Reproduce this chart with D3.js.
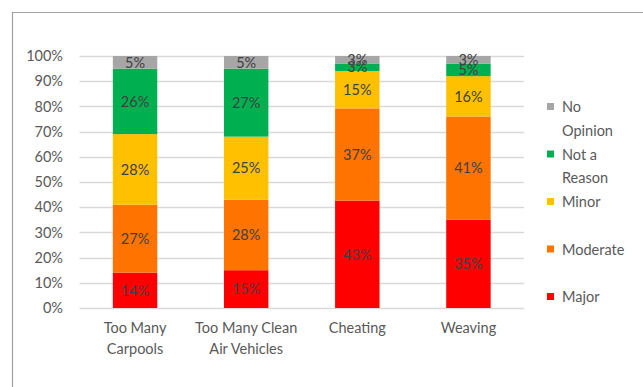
<!DOCTYPE html>
<html>
<head>
<meta charset="utf-8">
<script src="https://cdn.jsdelivr.net/npm/d3@7"></script>
<style>
  html, body { margin: 0; padding: 0; background: #fff; }
  svg { display: block; font-family: Lato, "Open Sans", sans-serif; }
</style>
</head>
<body>
<svg id="chart" width="643" height="387"></svg>
<script>
// Survey responses, percent of respondents per reason
const categories = [["Too Many", "Carpools"], ["Too Many Clean", "Air Vehicles"], ["Cheating"], ["Weaving"]];
const seriesNames = ["Major", "Moderate", "Minor", "Not a Reason", "No Opinion"];
const major      = [14, 15, 43, 35];
const moderate   = [27, 28, 37, 41];
const minor      = [28, 25, 15, 16];
const notReason  = [26, 27, 3, 5];
const noOpinion  = [5, 5, 3, 3];
const yTicks = [0, 10, 20, 30, 40, 50, 60, 70, 80, 90, 100];
const legendLines = {
  "No Opinion": ["No", "Opinion"],
  "Not a Reason": ["Not a", "Reason"],
  "Minor": ["Minor"],
  "Moderate": ["Moderate"],
  "Major": ["Major"]
};

const colors = {
  "Major": "#ff0000",
  "Moderate": "#ff7400",
  "Minor": "#ffc000",
  "Not a Reason": "#00b050",
  "No Opinion": "#a6a6a6"
};

const valuesBySeries = [major, moderate, minor, notReason, noOpinion];
const rows = categories.map((c, i) => {
  const row = { key: c.join(" "), lines: c };
  seriesNames.forEach((s, j) => row[s] = valuesBySeries[j][i]);
  row.total = d3.sum(seriesNames, s => row[s]);
  return row;
});

// 100% stacking: each column is normalised by its own total
const stack = d3.stack().keys(seriesNames).offset(d3.stackOffsetExpand);
const layers = stack(rows);

const svg = d3.select("#chart");
const margin = { left: 79.5, right: 524, top: 56, bottom: 308 };

const x = d3.scaleBand().domain(rows.map(r => r.key))
  .range([margin.left, margin.right]).paddingInner(0.6).paddingOuter(0.3);
const y = d3.scaleLinear().domain([0, 1]).range([margin.bottom, margin.top]);

// outer frame (top and left edges)
svg.append("path")
  .attr("d", "M12.5,387 V12.5 H643")
  .attr("fill", "none").attr("stroke", "#a0a0a0").attr("stroke-width", 1.2);

// gridlines
svg.append("g").selectAll("line").data(yTicks).join("line")
  .attr("x1", margin.left).attr("x2", margin.right)
  .attr("y1", d => Math.round(y(d / 100)) + 0.5).attr("y2", d => Math.round(y(d / 100)) + 0.5)
  .attr("stroke", "#d9d9d9").attr("stroke-width", 1.3);

// y axis labels
const yAxis = d3.axisLeft(y).tickValues(yTicks.map(t => t / 100))
  .tickFormat(d => Math.round(d * 100) + "%").tickSize(0).tickPadding(0);
const ya = svg.append("g").attr("transform", "translate(63,0)").call(yAxis);
ya.select(".domain").remove();
ya.selectAll("text").attr("fill", "#595959").attr("font-size", 14.5)
  .attr("font-family", "Lato, sans-serif");

// bars
const layerG = svg.append("g").selectAll("g").data(layers).join("g")
  .attr("fill", d => colors[d.key]);
layerG.selectAll("rect").data(d => d.map(p => ({ p, key: d.key }))).join("rect")
  .attr("x", d => x(d.p.data.key))
  .attr("width", x.bandwidth())
  .attr("y", d => y(d.p[1]))
  .attr("height", d => y(d.p[0]) - y(d.p[1]));

// value labels
const labelG = svg.append("g");
layers.forEach(layer => {
  layer.forEach(p => {
    labelG.append("text")
      .attr("x", x(p.data.key) + x.bandwidth() / 2)
      .attr("y", y((p[0] + p[1]) / 2))
      .attr("dy", "0.36em")
      .attr("text-anchor", "middle")
      .attr("fill", "#404040")
      .attr("font-size", 14.5)
      .text(p.data[layer.key] + "%");
  });
});

// category labels
const xl = svg.append("g");
rows.forEach(r => {
  r.lines.forEach((ln, i) => {
    xl.append("text")
      .attr("x", x(r.key) + x.bandwidth() / 2)
      .attr("y", 333 + i * 21)
      .attr("text-anchor", "middle")
      .attr("fill", "#595959")
      .attr("font-size", 14.5)
      .text(ln);
  });
});

// legend
const legendOrder = seriesNames.slice().reverse();
const lg = svg.append("g");
legendOrder.forEach((s, i) => {
  const cy = 107 + i * 47.5;
  lg.append("rect").attr("x", 547).attr("y", cy - 4).attr("width", 7).attr("height", 7)
    .attr("fill", colors[s]);
  legendLines[s].forEach((ln, k) => {
    lg.append("text").attr("x", 562).attr("y", cy + k * 23.5).attr("dy", "0.36em")
      .attr("fill", "#595959").attr("font-size", 14.5).text(ln);
  });
});
</script>
</body>
</html>
